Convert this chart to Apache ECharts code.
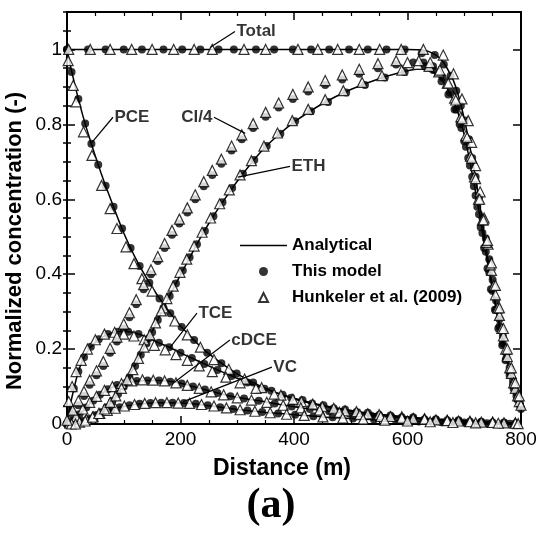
<!DOCTYPE html>
<html><head><meta charset="utf-8">
<script src="https://cdn.jsdelivr.net/npm/echarts@6/dist/echarts.min.js"></script>
<style>html,body{margin:0;padding:0;background:#fff}#c{width:542px;height:533px}</style>
</head><body><div id="c"></div>
<script>
// ---------- data ----------
const xTickLabels = ['0','200','400','600','800'];
const yTickLabels = ['0','0.2','0.4','0.6','0.8','1'];

const totalLine = [[0,1],[100,1],[200,1],[300,1],[400,1],[500,1],[600,1],[620,0.999],[640,0.993],[660,0.972],[680,0.92],[690,0.875],[700,0.815],[710,0.74],[720,0.655],[730,0.56],[740,0.455],[750,0.365],[760,0.282],[770,0.21],[780,0.148],[790,0.098],[800,0.04]];
const pceLine = [[0,1],[10,0.93],[20,0.868],[30,0.812],[40,0.762],[50,0.715],[60,0.67],[70,0.628],[80,0.588],[90,0.548],[100,0.51],[120,0.445],[140,0.39],[160,0.342],[180,0.3],[200,0.262],[220,0.23],[240,0.2],[260,0.176],[280,0.154],[300,0.134],[325,0.113],[350,0.095],[375,0.08],[400,0.067],[450,0.048],[500,0.034],[550,0.024],[600,0.017],[650,0.012],[700,0.008],[750,0.004],[800,0.001]];
const tceLine = [[0,0],[5,0.045],[10,0.08],[20,0.14],[30,0.178],[40,0.202],[50,0.218],[60,0.23],[70,0.238],[80,0.243],[90,0.246],[100,0.247],[110,0.246],[120,0.243],[140,0.232],[160,0.218],[180,0.205],[200,0.19],[220,0.176],[240,0.162],[260,0.148],[280,0.135],[300,0.122],[325,0.107],[350,0.093],[375,0.08],[400,0.069],[450,0.05],[500,0.036],[550,0.026],[600,0.019],[650,0.013],[700,0.009],[750,0.005],[800,0.001]];
const dceLine = [[0,0],[10,0.008],[20,0.022],[30,0.038],[40,0.054],[50,0.068],[60,0.08],[70,0.09],[80,0.098],[90,0.105],[100,0.109],[120,0.114],[140,0.116],[160,0.116],[180,0.114],[200,0.109],[220,0.101],[240,0.093],[260,0.085],[280,0.077],[300,0.071],[325,0.065],[350,0.059],[375,0.052],[400,0.046],[450,0.036],[500,0.028],[550,0.021],[600,0.016],[650,0.011],[700,0.008],[750,0.004],[800,0.001]];
const vcLine = [[0,0],[10,0.001],[20,0.004],[30,0.009],[40,0.015],[50,0.022],[60,0.029],[70,0.035],[80,0.04],[90,0.044],[100,0.047],[120,0.052],[140,0.055],[160,0.057],[180,0.057],[200,0.056],[220,0.054],[240,0.051],[260,0.047],[280,0.043],[300,0.039],[325,0.035],[350,0.031],[375,0.028],[400,0.025],[450,0.019],[500,0.015],[550,0.011],[600,0.008],[650,0.006],[700,0.004],[750,0.002],[800,0.001]];
const ethLine = [[0,0],[10,0],[20,0.002],[30,0.005],[40,0.011],[50,0.019],[60,0.03],[70,0.045],[80,0.062],[90,0.082],[100,0.104],[120,0.157],[140,0.217],[160,0.278],[180,0.34],[200,0.398],[220,0.455],[240,0.51],[260,0.56],[280,0.605],[300,0.648],[325,0.697],[350,0.74],[375,0.775],[400,0.806],[450,0.855],[500,0.893],[550,0.922],[600,0.943],[620,0.948],[640,0.943],[660,0.92],[680,0.867],[690,0.826],[700,0.772],[710,0.7],[720,0.62],[730,0.532],[740,0.44],[750,0.355],[760,0.274],[770,0.203],[780,0.142],[790,0.093],[800,0.037]];

const totalModel = [[0,1],[37,1],[68,1],[100,1],[132,1],[170,1],[203,1],[235,1],[267,1],[294,1],[333,1],[365,1],[398,1],[430,1],[462,1],[497,1],[530,1],[563,1],[595,1],[625,0.99],[648,0.985],[664,0.96],[676,0.93],[686,0.89],[694,0.85],[701,0.81],[708,0.76],[714,0.71],[720,0.66],[726,0.605],[732,0.55],[738,0.495],[744,0.44],[750,0.385],[756,0.33],[762,0.28],[768,0.235],[774,0.19],[780,0.15],[786,0.115],[792,0.085],[798,0.055]];
const totalHunk = [[3,1],[41,1],[76,1],[114,1],[150,1],[188,1],[224,1],[256,1],[312,1],[350,1],[407,1],[442,1],[477,1],[515,1],[551,1],[589,1],[628,1],[663,0.985],[681,0.935],[696,0.868],[707,0.81],[713,0.752],[720,0.69],[728,0.62],[735,0.55],[742,0.48],[748,0.41],[755,0.345],[762,0.29],[769,0.235],[776,0.18],[783,0.135],[790,0.095],[797,0.06]];
const pceModel = [[0,1],[8,0.94],[20,0.868],[32,0.802],[43,0.748],[55,0.692],[68,0.636],[82,0.58],[97,0.522],[112,0.47],[128,0.422],[145,0.377],[163,0.335],[182,0.296],[202,0.259],[224,0.224],[247,0.19],[272,0.162],[299,0.135],[328,0.111],[360,0.089],[395,0.07],[432,0.055],[470,0.042],[510,0.032],[550,0.024],[590,0.018],[630,0.013],[670,0.01],[710,0.007],[750,0.004],[790,0.002]];
const pceHunk = [[2,0.97],[11,0.904],[16,0.86],[29,0.78],[44,0.717],[61,0.637],[76,0.575],[88,0.522],[104,0.473],[118,0.428],[132,0.388],[150,0.355],[170,0.31],[190,0.275],[212,0.238],[235,0.205],[259,0.172],[285,0.146],[313,0.12],[343,0.097],[377,0.077],[413,0.06],[450,0.046],[490,0.035],[530,0.027],[570,0.02],[610,0.015],[650,0.011],[690,0.008],[730,0.005],[770,0.003]];
const tceModel = [[0,0],[5,0.04],[12,0.095],[20,0.14],[30,0.178],[42,0.206],[56,0.226],[72,0.24],[90,0.246],[108,0.246],[126,0.24],[144,0.229],[162,0.217],[180,0.205],[200,0.19],[220,0.176],[242,0.16],[265,0.144],[290,0.128],[318,0.111],[348,0.094],[380,0.078],[415,0.064],[452,0.05],[490,0.039],[530,0.03],[570,0.023],[610,0.018],[650,0.013],[690,0.01],[730,0.006],[770,0.004]];
const tceHunk = [[3,0.06],[9,0.1],[16,0.14],[25,0.17],[36,0.2],[50,0.225],[66,0.24],[84,0.245],[100,0.24],[118,0.235],[136,0.225],[154,0.21],[173,0.198],[192,0.185],[212,0.17],[233,0.155],[256,0.14],[280,0.125],[305,0.11],[333,0.095],[365,0.08],[398,0.066],[433,0.053],[470,0.042],[510,0.033],[550,0.025],[590,0.019],[630,0.014],[670,0.01],[710,0.007],[750,0.005],[790,0.003]];
const dceModel = [[0,0],[10,0.008],[22,0.026],[34,0.044],[46,0.062],[58,0.078],[72,0.093],[88,0.104],[105,0.111],[123,0.115],[142,0.116],[162,0.116],[182,0.113],[202,0.108],[222,0.1],[243,0.092],[265,0.083],[288,0.074],[312,0.068],[338,0.062],[366,0.055],[396,0.047],[428,0.04],[462,0.034],[498,0.028],[535,0.023],[572,0.018],[610,0.015],[650,0.011],[690,0.008],[730,0.005],[770,0.003]];
const dceHunk = [[5,0.002],[16,0.02],[28,0.04],[40,0.058],[52,0.074],[66,0.09],[80,0.1],[96,0.108],[114,0.115],[133,0.118],[152,0.117],[172,0.115],[192,0.11],[212,0.103],[233,0.095],[254,0.086],[276,0.078],[300,0.07],[325,0.064],[352,0.058],[381,0.05],[412,0.043],[445,0.037],[480,0.031],[516,0.025],[553,0.02],[590,0.016],[630,0.013],[670,0.009],[710,0.006],[750,0.004],[790,0.002]];
const vcModel = [[0,0],[15,0.002],[28,0.008],[40,0.015],[52,0.024],[64,0.032],[78,0.039],[93,0.045],[110,0.05],[128,0.054],[147,0.056],[166,0.057],[186,0.057],[206,0.056],[227,0.054],[248,0.05],[270,0.045],[293,0.04],[318,0.036],[344,0.032],[372,0.028],[402,0.025],[434,0.021],[468,0.018],[504,0.015],[541,0.012],[580,0.009],[620,0.007],[660,0.005],[700,0.004],[740,0.002],[780,0.001]];
const vcHunk = [[8,0],[22,0.005],[34,0.012],[46,0.02],[58,0.028],[71,0.036],[85,0.042],[101,0.048],[119,0.052],[137,0.055],[156,0.057],[176,0.057],[196,0.056],[216,0.055],[237,0.052],[259,0.048],[281,0.043],[305,0.038],[331,0.034],[358,0.03],[387,0.026],[418,0.023],[451,0.019],[486,0.016],[522,0.013],[560,0.01],[600,0.008],[640,0.006],[680,0.004],[720,0.003],[760,0.002],[795,0.001]];
const ethModel = [[10,0],[25,0.004],[38,0.01],[50,0.02],[60,0.03],[70,0.045],[80,0.062],[90,0.08],[100,0.1],[110,0.125],[120,0.155],[130,0.185],[140,0.215],[150,0.245],[160,0.278],[170,0.31],[181,0.342],[192,0.375],[204,0.41],[216,0.445],[229,0.48],[243,0.515],[258,0.555],[274,0.592],[291,0.63],[310,0.668],[330,0.705],[352,0.742],[376,0.775],[402,0.808],[430,0.835],[460,0.86],[492,0.885],[525,0.905],[560,0.925],[595,0.94],[630,0.955],[645,0.945],[660,0.915],[672,0.88],[683,0.84],[692,0.8],[700,0.755],[707,0.71],[714,0.66],[720,0.61],[726,0.56],[732,0.51],[738,0.46],[744,0.405],[750,0.355],[756,0.305],[762,0.26],[768,0.215],[774,0.175],[780,0.14],[786,0.105],[792,0.075],[798,0.05]];
const ethHunk = [[15,0],[32,0.008],[45,0.018],[56,0.028],[66,0.04],[76,0.058],[86,0.075],[96,0.095],[106,0.118],[116,0.145],[126,0.175],[136,0.205],[146,0.238],[156,0.27],[166,0.302],[176,0.335],[187,0.368],[199,0.405],[211,0.44],[224,0.475],[238,0.512],[253,0.55],[269,0.588],[286,0.625],[305,0.665],[325,0.703],[347,0.742],[371,0.777],[397,0.81],[425,0.84],[455,0.866],[487,0.89],[520,0.912],[555,0.93],[590,0.945],[618,0.96],[638,0.955],[655,0.94],[670,0.91],[683,0.87],[694,0.82],[703,0.77],[711,0.715],[718,0.66],[725,0.6],[732,0.545],[739,0.485],[746,0.425],[752,0.37],[759,0.31],[766,0.255],[773,0.2],[780,0.15],[787,0.11],[794,0.075],[800,0.05]];
const cl4Model = [[0,0],[10,0.025],[20,0.05],[30,0.075],[40,0.105],[52,0.13],[64,0.155],[76,0.19],[88,0.22],[100,0.255],[110,0.285],[122,0.32],[135,0.36],[148,0.4],[160,0.435],[172,0.47],[185,0.505],[198,0.535],[212,0.565],[226,0.6],[241,0.635],[256,0.665],[272,0.695],[290,0.73],[308,0.76],[328,0.79],[350,0.82],[373,0.845],[398,0.868],[425,0.888],[455,0.905],[485,0.92],[515,0.935],[548,0.95],[580,0.96],[610,0.965],[628,0.965],[645,0.955],[662,0.925],[675,0.885],[686,0.84],[695,0.79],[703,0.74],[710,0.69],[717,0.635],[723,0.58],[729,0.525],[735,0.47],[741,0.415],[747,0.36],[754,0.305],[760,0.255],[767,0.21],[773,0.17],[780,0.13],[787,0.095],[794,0.065],[800,0.04]];
const cl4Hunk = [[0,0.01],[10,0.037],[20,0.062],[30,0.087],[40,0.117],[52,0.142],[64,0.167],[76,0.202],[88,0.232],[100,0.267],[110,0.297],[122,0.332],[135,0.372],[148,0.412],[160,0.447],[172,0.482],[185,0.517],[198,0.547],[212,0.577],[226,0.612],[241,0.647],[256,0.677],[272,0.707],[290,0.742],[308,0.772],[328,0.802],[350,0.832],[373,0.857],[398,0.88],[425,0.9],[455,0.917],[485,0.932],[515,0.947],[548,0.962],[580,0.97],[600,0.965],[620,0.97],[640,0.965],[657,0.945],[672,0.91],[685,0.865],[696,0.815],[705,0.765],[713,0.71],[720,0.655],[727,0.6],[734,0.545],[741,0.49],[748,0.43],[755,0.37],[762,0.31],[769,0.255],[776,0.2],[783,0.15],[790,0.11],[797,0.075]];

const annoText = ['Total','PCE','Cl/4','ETH','TCE','cDCE','VC'];
const annoTip  = [[252,1.005],[44,0.752],[314,0.776],[301,0.659],[181,0.203],[187,0.109],[204,0.059]];
const annoAt   = [[296,1.048],[81,0.819],[259,0.819],[393,0.688],[229,0.296],[287,0.224],[361,0.152]];
const annoSide = ['right','right','left','right','right','right','right'];

// ---------- chart ----------
const SANS = '"Liberation Sans", Arial, Helvetica, sans-serif';
const chart = echarts.init(document.getElementById('c'), null, {renderer:'canvas'});

const analyticalSets = [totalLine, pceLine, tceLine, dceLine, vcLine, ethLine];
const modelSets = [totalModel, pceModel, tceModel, dceModel, vcModel, ethModel, cl4Model];
const hunkSets = [totalHunk, pceHunk, tceHunk, dceHunk, vcHunk, ethHunk, cl4Hunk];

const series = [];
analyticalSets.forEach(d => series.push({
  type:'line', name:'Analytical', data:d, symbol:'none', showSymbol:false,
  smooth:0.25, lineStyle:{color:'#000', width:1.5}, itemStyle:{color:'#000'}, z:2, silent:true
}));
series.push({
  type:'scatter', name:'This model', data:[].concat(...modelSets),
  symbol:'circle', symbolSize:8, itemStyle:{color:'#000'}, z:3, silent:true
});
series.push({
  type:'scatter', name:'Hunkeler et al. (2009)', data:[].concat(...hunkSets),
  symbol:'triangle', symbolSize:10, itemStyle:{color:'#fff', borderColor:'#000', borderWidth:1.2}, z:4, silent:true
});
annoText.forEach((t,i) => {
  series.push({
    type:'line', name:'anno'+i, symbol:'none', showSymbol:false, silent:true, z:5,
    lineStyle:{color:'#000', width:1.2}, data:[annoTip[i], annoAt[i]]
  });
  series.push({
    type:'scatter', name:'annoText'+i, silent:true, z:6, symbol:'circle', symbolSize:1,
    itemStyle:{color:'rgba(0,0,0,0)'}, data:[annoAt[i]],
    label:{show:true, position:annoSide[i], distance:1, formatter:t, color:'#000',
      fontFamily:SANS, fontWeight:'bold', fontSize:17}
  });
});

const tickCommon = {inside:true, lineStyle:{color:'#000', width:1.5}};
const lineCommon = {show:true, onZero:false, lineStyle:{color:'#000', width:2}};

chart.setOption({
  animation:false,
  backgroundColor:'#fff',
  title:{text:'(a)', left:'center', top:480,
    textStyle:{fontFamily:'"Liberation Serif","Times New Roman",serif', fontSize:42, fontWeight:'bold', color:'#000'}},
  grid:{left:67, right:21, top:12, bottom:109, containLabel:false, outerBoundsMode:'none'},
  legend:{orient:'vertical', left:235, top:232, itemWidth:47, itemHeight:9, itemGap:9,
    selectedMode:false, symbolKeepAspect:true,
    data:[
      {name:'Analytical', icon:'path://M0,0 L47,0 L47,1.6 L0,1.6 Z', itemStyle:{color:'#000'}},
      {name:'This model', icon:'circle'},
      {name:'Hunkeler et al. (2009)', icon:'path://M0,-10 L9,8 L-9,8 Z'}
    ],
    textStyle:{fontFamily:SANS, fontSize:17, fontWeight:'bold', color:'#000'}},
  xAxis:[
    {type:'value', min:0, max:800, interval:200, position:'bottom',
     axisLine:lineCommon, axisTick:Object.assign({length:8}, tickCommon),
     minorTick:{show:true, splitNumber:4, length:4, lineStyle:{color:'#000', width:1.2}},
     splitLine:{show:false}, minorSplitLine:{show:false},
     axisLabel:{color:'#000', fontFamily:SANS, fontSize:19, margin:6,
       formatter:(v)=>xTickLabels[Math.round(v/200)]},
     name:'Distance (m)', nameLocation:'middle', nameGap:33,
     nameTextStyle:{fontFamily:SANS, fontSize:23, fontWeight:'bold', color:'#000', padding:[0,24,0,0]}},
    {type:'value', min:0, max:800, interval:200, position:'top',
     axisLine:lineCommon, axisTick:Object.assign({length:8}, tickCommon),
     minorTick:{show:true, splitNumber:4, length:4, lineStyle:{color:'#000', width:1.2}},
     splitLine:{show:false}, axisLabel:{show:false}}
  ],
  yAxis:[
    {type:'value', min:0, max:1.1, interval:0.2, position:'left',
     axisLine:lineCommon, axisTick:Object.assign({length:8}, tickCommon),
     splitLine:{show:false},
     axisLabel:{color:'#000', fontFamily:SANS, fontSize:19, margin:5, showMaxLabel:false,
       formatter:(v)=>{const i=Math.round(v/0.2); return (Math.abs(v-i*0.2)<1e-6 && i<yTickLabels.length)? yTickLabels[i] : '';}},
     name:'Normalized concentration (-)', nameLocation:'middle', nameGap:41, nameRotate:90,
     nameMoveOverlap:false,
     nameTextStyle:{fontFamily:SANS, fontSize:22, fontWeight:'bold', color:'#000', padding:[0,46,0,0]}},
    {type:'value', min:0, max:1.1, interval:0.05, position:'left',
     axisLine:{show:false}, axisTick:Object.assign({length:4}, tickCommon),
     splitLine:{show:false}, axisLabel:{show:false}},
    {type:'value', min:0, max:1.1, interval:0.2, position:'right',
     axisLine:lineCommon, axisTick:Object.assign({length:8}, tickCommon),
     splitLine:{show:false}, axisLabel:{show:false}},
    {type:'value', min:0, max:1.1, interval:0.05, position:'right',
     axisLine:{show:false}, axisTick:Object.assign({length:4}, tickCommon),
     splitLine:{show:false}, axisLabel:{show:false}}
  ],
  series: series
});
</script>
</body></html>
